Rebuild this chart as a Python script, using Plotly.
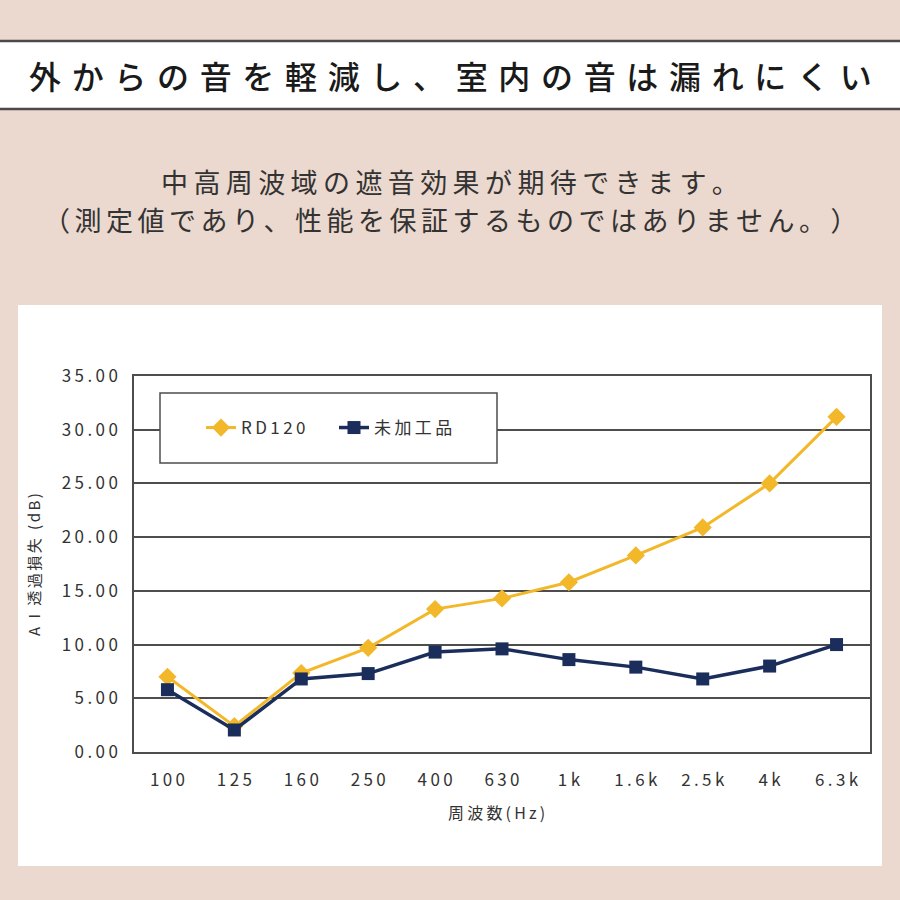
import plotly.graph_objects as go

categories = ["100", "125", "160", "250", "400", "630", "1k", "1.6k", "2.5k", "4k", "6.3k"]
rd120 = [7.0, 2.4, 7.35, 9.7, 13.3, 14.3, 15.8, 18.3, 20.9, 25.0, 31.2]
untreated = [5.8, 2.05, 6.8, 7.3, 9.3, 9.6, 8.6, 7.9, 6.8, 8.0, 10.0]
y_ticks = [0, 5, 10, 15, 20, 25, 30, 35]
series_names = ["RD120", "未加工品"]

title = "外からの音を軽減し、室内の音は漏れにくい"
sub1 = "中高周波域の遮音効果が期待できます。"
sub2 = "（測定値であり、性能を保証するものではありません。）"
ytitle = "A I 透過損失 (dB)"
xtitle = "周波数(Hz)"

FONT = "Noto Sans CJK JP"
YEL = "#f2b82a"
NAVY = "#1b2d5b"
GRID = "#4d4d4d"
BG = "#ebd8ce"

THIN = "\u2009"      # 1/5 em
THREE = "\u2004"     # 1/3 em
SIX = "\u2006"       # 1/6 em


def spaced(s, sp=THIN):
    return sp.join(list(s))


fig = go.Figure()
fig.add_trace(go.Scatter(
    x=categories, y=rd120, name=spaced(series_names[0]), mode="lines+markers",
    line=dict(color=YEL, width=3), marker=dict(symbol="diamond", size=14, color=YEL)))
fig.add_trace(go.Scatter(
    x=categories, y=untreated, name=spaced(series_names[1]), mode="lines+markers",
    line=dict(color=NAVY, width=3.5), marker=dict(symbol="square", size=13, color=NAVY)))

H = 900.0


def py(p):
    return 1 - p / H


shapes = [
    dict(type="rect", xref="paper", yref="paper", x0=0, x1=1, y0=py(109), y1=py(41),
         fillcolor="white", line=dict(width=0), layer="below"),
    dict(type="line", xref="paper", yref="paper", x0=0, x1=1, y0=py(41), y1=py(41),
         line=dict(color="#4a4a4a", width=2.5)),
    dict(type="line", xref="paper", yref="paper", x0=0, x1=1, y0=py(109), y1=py(109),
         line=dict(color="#4a4a4a", width=2.5)),
    dict(type="rect", xref="paper", yref="paper", x0=18 / H, x1=882 / H, y0=py(866), y1=py(305),
         fillcolor="white", line=dict(width=0), layer="below"),
    dict(type="rect", xref="paper", yref="paper", x0=160 / H, x1=497 / H, y0=py(463), y1=py(393),
         fillcolor="white", line=dict(color=GRID, width=1.5), layer="above"),
]

annotations = [
    dict(text=spaced(title, THREE), x=0.5, y=py(75), xref="paper", yref="paper", showarrow=False,
         font=dict(family=FONT, size=32, color="#1a1a1a", weight=500), xanchor="center", yanchor="middle"),
    dict(text=spaced(sub1, THIN), x=0.5, y=py(181), xref="paper", yref="paper", showarrow=False,
         font=dict(family=FONT, size=27, color="#333333"), xanchor="center", yanchor="middle"),
    dict(text=spaced(sub2, SIX), x=0.5, y=py(219), xref="paper", yref="paper", showarrow=False,
         font=dict(family=FONT, size=27, color="#333333"), xanchor="center", yanchor="middle"),
    dict(text=spaced(ytitle, SIX), x=33 / H, y=py(565), xref="paper", yref="paper", showarrow=False,
         textangle=-90,
         font=dict(family=FONT, size=15, color="#333333"), xanchor="center", yanchor="middle"),
    dict(text=spaced(xtitle, THIN), x=497 / H, y=py(812), xref="paper", yref="paper", showarrow=False,
         font=dict(family=FONT, size=16, color="#333333"), xanchor="center", yanchor="middle"),
]

fig.update_layout(
    width=900, height=900, margin=dict(l=0, r=0, t=0, b=0, autoexpand=False),
    paper_bgcolor=BG, plot_bgcolor="white",
    shapes=shapes, annotations=annotations,
    showlegend=True,
    legend=dict(orientation="h", xref="container", yref="container",
                x=201 / H, y=py(428), xanchor="left", yanchor="middle",
                bgcolor="rgba(0,0,0,0)", borderwidth=0,
                font=dict(family=FONT, size=17, color="#333333"),
                entrywidth=88, entrywidthmode="pixels"),
    xaxis=dict(domain=[134 / H, 870 / H], type="category", categoryorder="array", categoryarray=categories,
               range=[-0.5, 10.5], showgrid=False, showline=True, mirror=True, linecolor=GRID, linewidth=1.5,
               ticks="outside", ticklen=12, tickcolor="rgba(0,0,0,0)", automargin=False,
               tickvals=categories, ticktext=[spaced(c) for c in categories],
               tickfont=dict(family=FONT, size=17, color="#333333"), zeroline=False),
    yaxis=dict(domain=[py(752), py(376)], range=[0, 35], tickvals=y_ticks,
               ticktext=[spaced(f"{v:.2f}") for v in y_ticks], automargin=False,
               showgrid=True, gridcolor=GRID, gridwidth=1.5, showline=True, mirror=True,
               linecolor=GRID, linewidth=1.5, zeroline=False,
               ticks="outside", ticklen=11, tickcolor="rgba(0,0,0,0)",
               tickfont=dict(family=FONT, size=17, color="#333333")),
)

fig.write_html("out.html")
